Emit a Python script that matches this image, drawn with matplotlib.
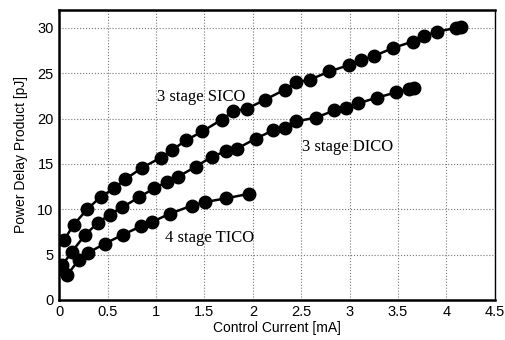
import numpy as np
import matplotlib
matplotlib.use("Agg")
import matplotlib.pyplot as plt

# Values
sico_x = [0.05, 0.15, 0.29, 0.43, 0.57, 0.68, 0.86, 1.05, 1.16, 1.31, 1.48, 1.68, 1.80,
          1.94, 2.13, 2.33, 2.45, 2.59, 2.79, 2.99, 3.12, 3.25, 3.45, 3.65, 3.77,
          3.90, 4.10, 4.15]
sico_y = [6.6, 8.3, 10.0, 11.4, 12.3, 13.3, 14.6, 15.7, 16.5, 17.6, 18.6, 19.9, 20.8,
          21.1, 22.1, 23.2, 24.0, 24.3, 25.2, 25.9, 26.5, 26.9, 27.8, 28.5, 29.1,
          29.6, 30.0, 30.1]

dico_x = [0.03, 0.13, 0.27, 0.40, 0.52, 0.65, 0.82, 0.98, 1.11, 1.23, 1.41, 1.58,
          1.72, 1.84, 2.03, 2.21, 2.33, 2.45, 2.65, 2.84, 2.96, 3.09, 3.28, 3.48,
          3.61, 3.66]
dico_y = [3.8, 5.3, 7.2, 8.5, 9.4, 10.2, 11.3, 12.3, 13.0, 13.6, 14.7, 15.8,
          16.4, 16.7, 17.8, 18.7, 19.0, 19.7, 20.1, 20.9, 21.2, 21.7, 22.3, 22.9,
          23.3, 23.4]

tico_x = [0.03, 0.08, 0.20, 0.30, 0.47, 0.66, 0.84, 0.96, 1.14, 1.37, 1.51, 1.72, 1.96]
tico_y = [3.4, 2.7, 4.4, 5.2, 6.2, 7.2, 8.1, 8.6, 9.5, 10.4, 10.8, 11.2, 11.7]

labels = ["3 stage SICO", "3 stage DICO", "4 stage TICO"]

fig = plt.figure(figsize=(5.06, 3.40), dpi=100)
ax = fig.add_axes([0.117, 0.118, 0.861, 0.853])

for x, y in [(sico_x, sico_y), (dico_x, dico_y), (tico_x, tico_y)]:
    ax.plot(x, y, "k-", lw=1.8, marker="o", ms=9, mfc="black", mec="black")

serif = dict(family="Liberation Serif", fontsize=12)
ax.text(1.01, 22.4, labels[0], va="center", **serif)
ax.text(2.51, 16.9, labels[1], va="center", **serif)
ax.text(1.09, 6.8, labels[2], va="center", **serif)

ax.set_xlim(0, 4.5)
ax.set_ylim(0, 32)
ax.set_xticks(np.arange(0, 4.51, 0.5))
ax.set_xticklabels(["0", "0.5", "1", "1.5", "2", "2.5", "3", "3.5", "4", "4.5"])
ax.set_yticks(np.arange(0, 31, 5))
ax.grid(True, ls=":", color="#777777", lw=0.8)
ax.tick_params(length=0, labelsize=10.5, pad=4)
for lbl in ax.get_xticklabels() + ax.get_yticklabels():
    lbl.set_family("Liberation Sans")

for side in ["left", "bottom", "top"]:
    ax.spines[side].set_linewidth(1.8)
ax.spines["right"].set_linewidth(1.0)

ax.set_xlabel("Control Current [mA]", family="Liberation Sans", fontsize=10, labelpad=1)
ax.set_ylabel("Power Delay Product [pJ]", family="Liberation Sans", fontsize=10, labelpad=7)

plt.savefig("out.png", dpi=100)
plt.close()
